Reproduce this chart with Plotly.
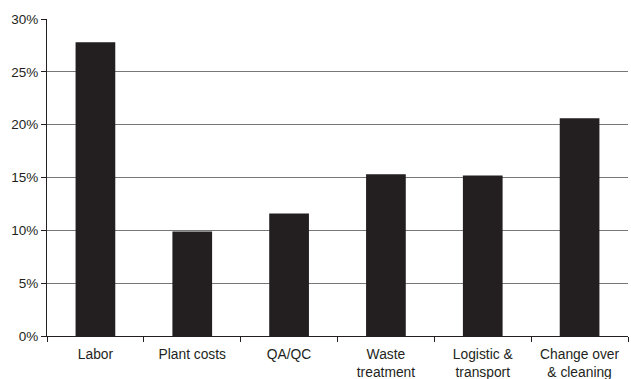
import plotly.graph_objects as go

categories = ["Labor", "Plant costs", "QA/QC", "Waste<br>treatment", "Logistic &<br>transport", "Change over<br>& cleaning"]
values = [27.8, 9.9, 11.6, 15.3, 15.2, 20.6]
y_ticks = [0, 5, 10, 15, 20, 25, 30]
y_tick_labels = ["0%", "5%", "10%", "15%", "20%", "25%", "30%"]

fig = go.Figure(go.Bar(
    x=categories, y=values,
    marker=dict(color="#231f20", line=dict(width=0)),
    width=0.41,
))

fig.update_layout(
    width=631, height=379,
    margin=dict(l=47, r=3, t=19, b=43),
    paper_bgcolor="white", plot_bgcolor="white",
    font=dict(family="Liberation Sans, Arial, sans-serif", size=12, color="#231f20"),
    showlegend=False,
)
fig.update_xaxes(
    type="category", tickson="boundaries", ticks="outside", ticklen=5, tickcolor="#231f20",
    showline=True, linecolor="#231f20", linewidth=1, showgrid=False,
    tickfont=dict(size=13.8), range=[-0.5, 5.5], ticklabelstandoff=5,
    automargin=False,
)
fig.update_yaxes(
    range=[0, 30], tickvals=y_ticks, ticktext=y_tick_labels,
    ticks="outside", ticklen=5, tickcolor="#231f20",
    showline=True, linecolor="#231f20", linewidth=1,
    showgrid=True, gridcolor="#777777", gridwidth=1, zeroline=False,
    tickfont=dict(size=13.5), automargin=False,
)

fig.write_html("out.html")
